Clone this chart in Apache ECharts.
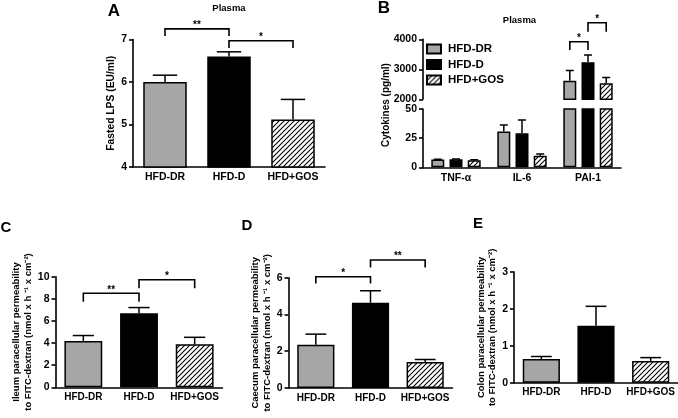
<!DOCTYPE html>
<html><head><meta charset="utf-8">
<script src="https://cdn.jsdelivr.net/npm/echarts@6/dist/echarts.min.js"></script>
<style>html,body{margin:0;padding:0;background:#fff}#c{width:678px;height:418px}</style>
</head><body><div id="c"></div><script>
// ---- data ----
const groups = ['HFD-DR', 'HFD-D', 'HFD+GOS'];
// A: fasted LPS (EU/ml)
const lpsMean = [6.00, 6.60, 5.12];
const lpsSem = [0.16, 0.11, 0.47];
// B: cytokines (pg/ml)
const cytokines = ['TNF-α', 'IL-6', 'PAI-1'];
const cytoDR = [6.6, 30.6, 2620];
const cytoDRSem = [0.3, 5.7, 340];
const cytoD = [6.8, 29.1, 3235];
const cytoDSem = [0.3, 11.5, 240];
const cytoGOS = [6.0, 9.8, 2533];
const cytoGOSSem = [0.4, 1.5, 190];
// C-E: paracellular permeability
const ileumMean = [4.19, 6.69, 3.89];
const ileumSem = [0.49, 0.52, 0.63];
const caecumMean = [2.35, 4.64, 1.42];
const caecumSem = [0.58, 0.65, 0.13];
const colonMean = [0.64, 1.54, 0.59];
const colonSem = [0.07, 0.53, 0.09];
// significance brackets [fromIdx, toIdx, bracketY, legY]
const sigA = [[0, 1, 7.25, 7.08], [1, 2, 6.97, 6.80]];
const sigALabels = ['**', '*'];
// B brackets [category, fromSeries, toSeries, bracketY, legY]
const sigB = [[2, 0, 1, 3920, 3640], [2, 1, 2, 4550, 4250]];
const sigBLabels = ['*', '*'];
const sigC = [[0, 1, 8.5, 7.74], [1, 2, 9.72, 8.95]];
const sigCLabels = ['**', '*'];
const sigD = [[0, 1, 6.05, 5.69], [1, 2, 6.96, 6.56]];
const sigDLabels = ['*', '**'];

// ---- styles ----
const FONT = '"Liberation Sans", Arial, sans-serif';
function hatch() {
  const c = document.createElement('canvas'); c.width = 5; c.height = 5;
  const g = c.getContext('2d');
  g.fillStyle = '#fff'; g.fillRect(0, 0, 5, 5);
  g.strokeStyle = '#000'; g.lineWidth = 1.1;
  g.beginPath();
  g.moveTo(-1, 6); g.lineTo(6, -1);
  g.moveTo(-1, 1); g.lineTo(1, -1);
  g.moveTo(4, 6); g.lineTo(6, 4);
  g.stroke();
  return c;
}
const hatchFill = { image: hatch(), repeat: 'repeat' };
const fills = ['#a6a6a6', '#000000', hatchFill];
const B_BAR = 13, B_GAP = 0.4, B_STEP = B_BAR * (1 + B_GAP);

function errRender(offsetFn, capFn) {
  return function (params, api) {
    const i = api.value(0), m = api.value(1), s = api.value(2);
    const p0 = api.coord([i, m]), p1 = api.coord([i, m + s]);
    const x = p0[0] + offsetFn(params);
    const ch = capFn(api);
    const st = { stroke: '#000', lineWidth: 1.5 };
    return { type: 'group', children: [
      { type: 'line', shape: { x1: x, y1: p0[1], x2: x, y2: p1[1] }, style: st },
      { type: 'line', shape: { x1: x - ch, y1: p1[1], x2: x + ch, y2: p1[1] }, style: st }
    ] };
  };
}
function bracketShape(xa, xb, yb, yla, ylb, label) {
  return { type: 'group', children: [
    { type: 'polyline', shape: { points: [[xa, yla], [xa, yb], [xb, yb], [xb, ylb]] },
      style: { stroke: '#000', lineWidth: 1.6, fill: null } },
    { type: 'text', style: { text: label, x: (xa + xb) / 2, y: yb - 3.5, align: 'center',
      verticalAlign: 'middle', font: 'bold 10px ' + FONT, fill: '#000' } }
  ] };
}
function bracketRender(labels) {
  return function (params, api) {
    const a = api.coord([api.value(0), api.value(2)]);
    const b = api.coord([api.value(1), api.value(2)]);
    const la = api.coord([api.value(0), api.value(3)]);
    return bracketShape(a[0], b[0], a[1], la[1], la[1], labels[params.dataIndex]);
  };
}
function bracketRenderB(labels) {
  return function (params, api) {
    const c = api.value(0);
    const a = api.coord([c, api.value(3)]);
    const l = api.coord([c, api.value(4)]);
    const xa = a[0] + (api.value(1) - 1) * B_STEP;
    const xb = a[0] + (api.value(2) - 1) * B_STEP;
    return bracketShape(xa, xb, a[1], l[1], l[1], labels[params.dataIndex]);
  };
}

function yAx(gi, min, max, interval, name, gap) {
  return {
    type: 'value', gridIndex: gi, min: min, max: max, interval: interval,
    name: name || '', nameLocation: 'middle', nameGap: gap || 0, nameRotate: 90,
    nameTextStyle: { color: '#000', fontWeight: 'bold', fontSize: 9.5, lineHeight: 11.5, fontFamily: FONT, align: 'center' },
    axisLine: { show: true, lineStyle: { color: '#000', width: 1.6 } },
    axisTick: { show: true, length: 4, lineStyle: { color: '#000', width: 1.6 } },
    splitLine: { show: false },
    axisLabel: { color: '#000', fontWeight: 'bold', fontSize: 10.5, fontFamily: FONT, margin: 6,
      formatter: v => String(v) }
  };
}
function xAx(gi, data, show, fs) {
  return {
    type: 'category', gridIndex: gi, data: data, show: show,
    axisLine: { show: true, lineStyle: { color: '#000', width: 1.6 } },
    axisTick: { show: false },
    axisLabel: { color: '#000', fontWeight: 'bold', fontSize: fs || 10, fontFamily: FONT, margin: 5,
      interval: 0, hideOverlap: false }
  };
}
function panel(gi, means, sems, sig, sigLabels) {
  const out = [
    { type: 'bar', xAxisIndex: gi, yAxisIndex: gi, barWidth: '68%',
      data: means.map((v, i) => ({ value: v, itemStyle: { color: fills[i] } })),
      itemStyle: { borderColor: '#000', borderWidth: 1.5 } },
    { type: 'custom', xAxisIndex: gi, yAxisIndex: gi, clip: false, encode: { x: 0, y: 1 },
      renderItem: errRender(() => 0, api => api.size([1, 0])[0] * 0.68 * 0.28),
      data: means.map((v, i) => [i, v, sems[i]]) }
  ];
  if (sig) out.push({ type: 'custom', xAxisIndex: gi, yAxisIndex: gi, clip: false, encode: { x: 0, y: 2 },
    renderItem: bracketRender(sigLabels), data: sig, z: 5 });
  return out;
}
function bSeries(gi) {
  const sets = [[groups[0], cytoDR, cytoDRSem, 0], [groups[1], cytoD, cytoDSem, 1], [groups[2], cytoGOS, cytoGOSSem, 2]];
  const out = [];
  sets.forEach(s => {
    out.push({ type: 'bar', name: s[0], xAxisIndex: gi, yAxisIndex: gi, barWidth: B_BAR, barGap: (B_GAP * 100) + '%',
      clip: true, data: s[1], itemStyle: { color: fills[s[3]], borderColor: '#000', borderWidth: 1.5 } });
  });
  sets.forEach(s => {
    out.push({ type: 'custom', name: s[0] + ' err', xAxisIndex: gi, yAxisIndex: gi, clip: true, encode: { x: 0, y: 1 },
      renderItem: errRender(() => (s[3] - 1) * B_STEP, () => 4),
      data: s[1].map((v, i) => [i, v, s[2][i]]) });
  });
  return out;
}

const chart = echarts.init(document.getElementById('c'), null, { renderer: 'canvas' });
const grids = [
  { left: 133, top: 39.5, width: 192, height: 127.5 },
  { left: 423, top: 39.3, width: 198, height: 60 },
  { left: 423, top: 109, width: 198, height: 58.3 },
  { left: 55.5, top: 276.7, width: 167, height: 110.6 },
  { left: 288.5, top: 277.7, width: 164, height: 110.3 },
  { left: 514, top: 272, width: 164, height: 110.7 }
].map(g => Object.assign({ outerBoundsMode: 'none', containLabel: false }, g));

const ylabC = 'Ileum paracellular permeability\nto FITC-dextran (nmol x h ⁻¹ x cm⁻²)';
const ylabD = 'Caecum paracellular permeability\nto FITC-dextran (nmol x h ⁻¹ x cm⁻²)';
const ylabE = 'Colon paracellular permeability\nto FITC-dextran (nmol x h ⁻¹ x cm⁻²)';

const yA = yAx(0, 4, 7, 1, 'Fasted LPS (EU/ml)', 12.5);
yA.nameTextStyle.fontSize = 10.3;

const option = {
  animation: false,
  backgroundColor: '#fff',
  textStyle: { fontFamily: FONT },
  grid: grids,
  legend: {
    data: groups, orient: 'vertical', left: 426, top: 43, itemWidth: 14, itemHeight: 9, itemGap: 3.5,
    icon: 'rect', selectedMode: false, padding: 0,
    textStyle: { color: '#000', fontWeight: 'bold', fontSize: 11.5, fontFamily: FONT, padding: [0, 0, 0, 2] }
  },
  xAxis: [
    xAx(0, groups, true, 10.5),
    xAx(1, cytokines, false),
    xAx(2, cytokines, true, 10.5),
    xAx(3, groups, true),
    xAx(4, groups, true),
    xAx(5, groups, true)
  ],
  yAxis: [
    yA,
    yAx(1, 2000, 4000, 1000),
    yAx(2, 0, 50, 25),
    yAx(3, 0, 10, 2, ylabC, 16),
    yAx(4, 0, 6, 2, ylabD, 12),
    yAx(5, 0, 3, 1, ylabE, 14.5)
  ],
  series: [].concat(
    panel(0, lpsMean, lpsSem, sigA, sigALabels),
    bSeries(1),
    bSeries(2),
    [{ type: 'custom', xAxisIndex: 1, yAxisIndex: 1, clip: false, encode: { x: 0, y: 3 },
       renderItem: bracketRenderB(sigBLabels), data: sigB, z: 5 }],
    panel(3, ileumMean, ileumSem, sigC, sigCLabels),
    panel(4, caecumMean, caecumSem, sigD, sigDLabels),
    panel(5, colonMean, colonSem, null, null)
  ),
  graphic: [
    { type: 'text', x: 114, y: 11, style: { text: 'A', font: 'bold 17px ' + FONT, fill: '#000', align: 'center', verticalAlign: 'middle' } },
    { type: 'text', x: 229, y: 8, style: { text: 'Plasma', font: 'bold 9.5px ' + FONT, fill: '#000', align: 'center', verticalAlign: 'middle' } },
    { type: 'text', x: 384, y: 8, style: { text: 'B', font: 'bold 17px ' + FONT, fill: '#000', align: 'center', verticalAlign: 'middle' } },
    { type: 'text', x: 519.5, y: 20.5, style: { text: 'Plasma', font: 'bold 9.5px ' + FONT, fill: '#000', align: 'center', verticalAlign: 'middle' } },
    { type: 'text', x: 386, y: 105, rotation: Math.PI / 2, style: { text: 'Cytokines (pg/ml)', font: 'bold 10px ' + FONT, fill: '#000', align: 'center', verticalAlign: 'middle' } },
    { type: 'text', x: 6, y: 228, style: { text: 'C', font: 'bold 15px ' + FONT, fill: '#000', align: 'center', verticalAlign: 'middle' } },
    { type: 'text', x: 247, y: 226, style: { text: 'D', font: 'bold 15px ' + FONT, fill: '#000', align: 'center', verticalAlign: 'middle' } },
    { type: 'text', x: 478, y: 224, style: { text: 'E', font: 'bold 15px ' + FONT, fill: '#000', align: 'center', verticalAlign: 'middle' } }
  ]
};
chart.setOption(option);
</script></body></html>
